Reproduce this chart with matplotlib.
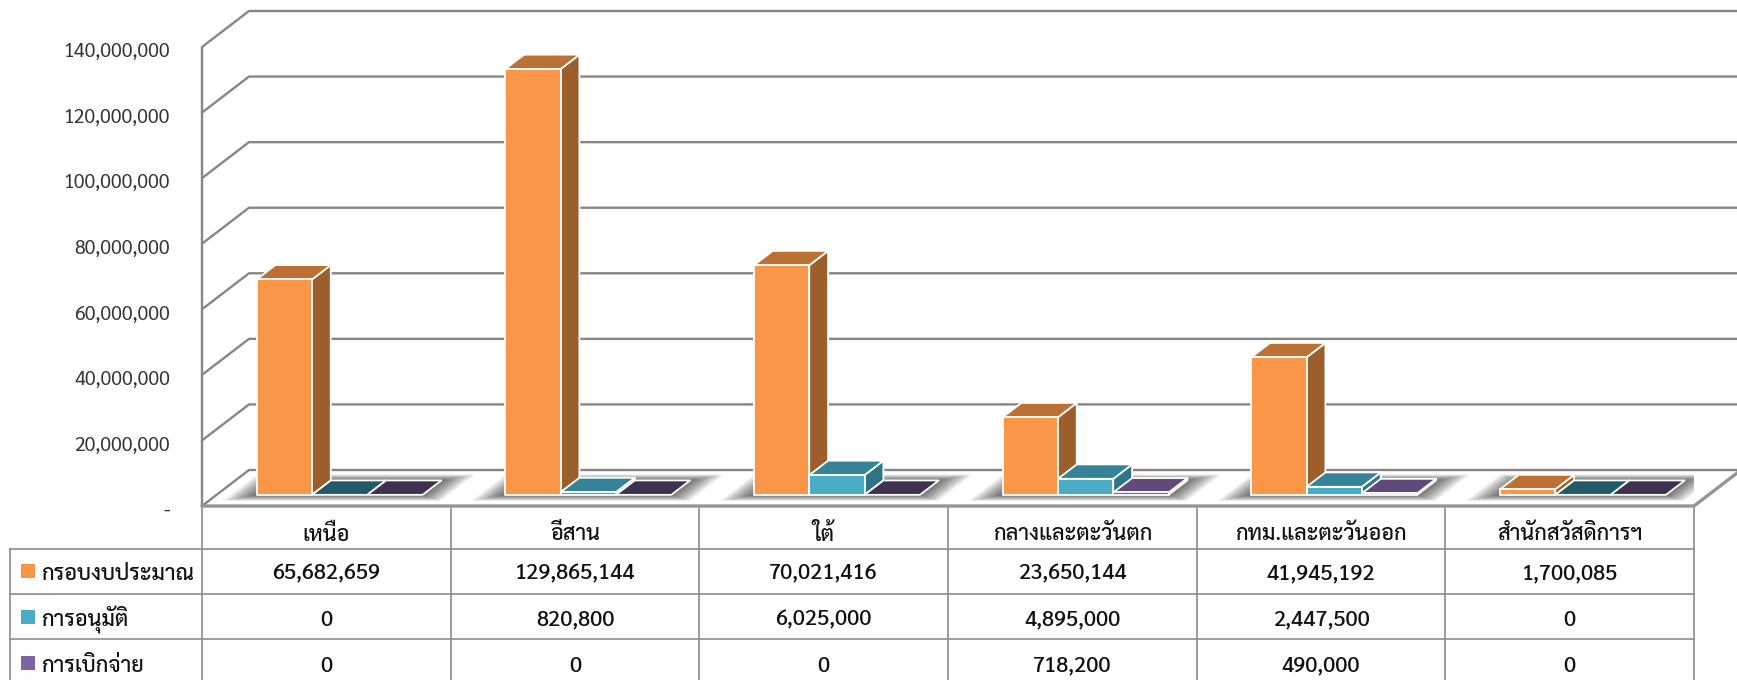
from __future__ import annotations

import matplotlib

matplotlib.use("Agg")
import matplotlib.pyplot as plt
from matplotlib.patches import Polygon
from matplotlib.ticker import FuncFormatter
from matplotlib.transforms import ScaledTranslation

plt.rcParams["font.family"] = ["Sarabun", "Noto Sans Thai", "FreeSerif", "DejaVu Sans"]

categories = ["เหนือ", "อีสาน", "ใต้", "กลางและตะวันตก", "กทม.และตะวันออก", "สำนักสวัสดิการฯ"]
series_names = ["กรอบงบประมาณ", "การอนุมัติ", "การเบิกจ่าย"]
budget = [65682659, 129865144, 70021416, 23650144, 41945192, 1700085]
approved = [0, 820800, 6025000, 4895000, 2447500, 0]
disbursed = [0, 0, 0, 718200, 490000, 0]
y_ticks = [0, 20000000, 40000000, 60000000, 80000000, 100000000, 120000000, 140000000]

# front, side, top, top when the value is zero
orange = ("#F99648", "#9C5F2B", "#BC7033", "#BC7033")
teal = ("#4BACC6", "#2F7587", "#368399", "#225A68")
purple = ("#8064A2", "#4C3B62", "#604A7B", "#3F3151")
legend_colors = ["#F79646", "#4BACC6", "#8064A2"]

W, H = 1737, 680
GRID = "#868686"
TEXT = "#111111"

# pixel frame of the chart: front left corner, front right corner, top of axis
X0, X1 = 202, 1694
Y0, YTOP = 506, 47
DEPTH_X = 47 / ((X1 - X0) / 6)  # full floor depth in category units
DEPTH_Y = 36 / ((Y0 - YTOP) / 140000000)  # and in value units

BAR_OFFSET = 0.161
BAR_WIDTH = 0.2225
BAR_D0, BAR_D1 = 0.31, 0.71


def pt(x, v, d):
    return (x + d * DEPTH_X, v + d * DEPTH_Y)


def draw_bar(ax, x, value, colors):
    x2 = x + BAR_WIDTH
    edge = dict(edgecolor="white", linewidth=1.3, joinstyle="round", clip_on=False, zorder=5)
    if value > 0:
        ax.add_patch(Polygon([pt(x2, 0, BAR_D0), pt(x2, 0, BAR_D1), pt(x2, value, BAR_D1), pt(x2, value, BAR_D0)],
                             facecolor=colors[1], **edge))
    top = colors[2] if value > 0 else colors[3]
    ax.add_patch(Polygon([pt(x, value, BAR_D0), pt(x2, value, BAR_D0), pt(x2, value, BAR_D1), pt(x, value, BAR_D1)],
                         facecolor=top, **edge))
    if value > 0:
        ax.add_patch(Polygon([pt(x, 0, BAR_D0), pt(x2, 0, BAR_D0), pt(x2, value, BAR_D0), pt(x, value, BAR_D0)],
                             facecolor=colors[0], **edge))


def draw_floor_shadow(ax, floor, i):
    x_a = i + BAR_OFFSET
    x_b = x_a + 3 * BAR_WIDTH
    for step in range(1, 15):
        grow = step * 0.0075
        grow_d = step * 0.012
        shadow = Polygon([pt(x_a - grow, 0, BAR_D0 - grow_d), pt(x_b + grow, 0, BAR_D0 - grow_d),
                          pt(x_b + grow, 0, BAR_D1 + grow_d), pt(x_a - grow, 0, BAR_D1 + grow_d)],
                         facecolor="black", edgecolor="none", alpha=0.05, zorder=2, clip_on=True)
        ax.add_patch(shadow)
        shadow.set_clip_path(floor)


fig = plt.figure(figsize=(W / 100, H / 100), dpi=100, facecolor="white")
ax = fig.add_axes([X0 / W, 1 - Y0 / H, (X1 - X0) / W, (Y0 - YTOP) / H])
ax.set_xlim(0, 6)
ax.set_ylim(0, 140000000)
ax.patch.set_visible(False)
for spine in ax.spines.values():
    spine.set_visible(False)
ax.set_xticks([])
ax.set_yticks(y_ticks)
ax.yaxis.set_major_formatter(FuncFormatter(lambda v, _: "-" if v == 0 else f"{int(v):,}"))
ax.tick_params(axis="y", length=0, pad=23, labelsize=14, labelcolor="#333333")
for label in ax.get_yticklabels():
    label.set_transform(label.get_transform() + ScaledTranslation(0, -3 / 100, fig.dpi_scale_trans))

line = dict(color=GRID, linewidth=1.7, clip_on=False, zorder=1, solid_capstyle="round")
for tick in y_ticks:
    back = pt(0, tick, 1)
    ax.plot([0, back[0], pt(6, tick, 1)[0]], [tick, back[1], back[1]], **line)
ax.plot([0, 0], [0, 140000000], **line)
ax.plot([0, 6, pt(6, 0, 1)[0]], [0, 0, pt(6, 0, 1)[1]], **{**line, "linewidth": 2.4, "zorder": 4, "color": "#959595"})

floor = Polygon([pt(0, 0, 0), pt(6, 0, 0), pt(6, 0, 1), pt(0, 0, 1)], transform=ax.transData, facecolor="none",
                edgecolor="none", clip_on=False)
ax.add_patch(floor)
for i in range(6):
    draw_floor_shadow(ax, floor, i)
for i in range(6):
    for j, (values, colors) in enumerate(((budget, orange), (approved, teal), (disbursed, purple))):
        draw_bar(ax, i + BAR_OFFSET + j * BAR_WIDTH, values[i], colors)

# data table under the chart, laid out in figure pixels
tb = fig.add_axes([0, 0, 1, 1], zorder=-1)
tb.set_xlim(0, W)
tb.set_ylim(H, 0)
tb.axis("off")
col_edges = [X0 + k * (X1 - X0) / 6 for k in range(7)]
row_edges = [506, 549, 594, 639, 680]
cell = dict(color="#8c8c8c", linewidth=1.2, zorder=1)
for x in col_edges:
    tb.plot([x, x], [row_edges[0], H], **cell)
tb.plot([10, 10], [row_edges[1], H], **cell)
for y in row_edges[1:4]:
    tb.plot([10, X1], [y, y], **cell)

font_cell = 15.7
text_mid = [574, 620, 666]
for i, name in enumerate(categories):
    tb.text((col_edges[i] + col_edges[i + 1]) / 2, 535, name, ha="center", va="center", fontsize=font_cell,
            fontweight="medium", color=TEXT)
rows = (budget, approved, disbursed)
for r, values in enumerate(rows):
    y_mid = text_mid[r]
    tb.add_patch(Polygon([(21, y_mid - 10), (35, y_mid - 10), (35, y_mid + 4), (21, y_mid + 4)],
                         facecolor=legend_colors[r], edgecolor="none"))
    tb.text(41, y_mid, series_names[r], ha="left", va="center", fontsize=font_cell, fontweight="medium", color=TEXT)
    for i, v in enumerate(values):
        tb.text((col_edges[i] + col_edges[i + 1]) / 2, y_mid, f"{v:,}", ha="center", va="center", fontsize=font_cell,
                fontweight="medium", color=TEXT)

fig.savefig("out.png", dpi=100, facecolor="white")
